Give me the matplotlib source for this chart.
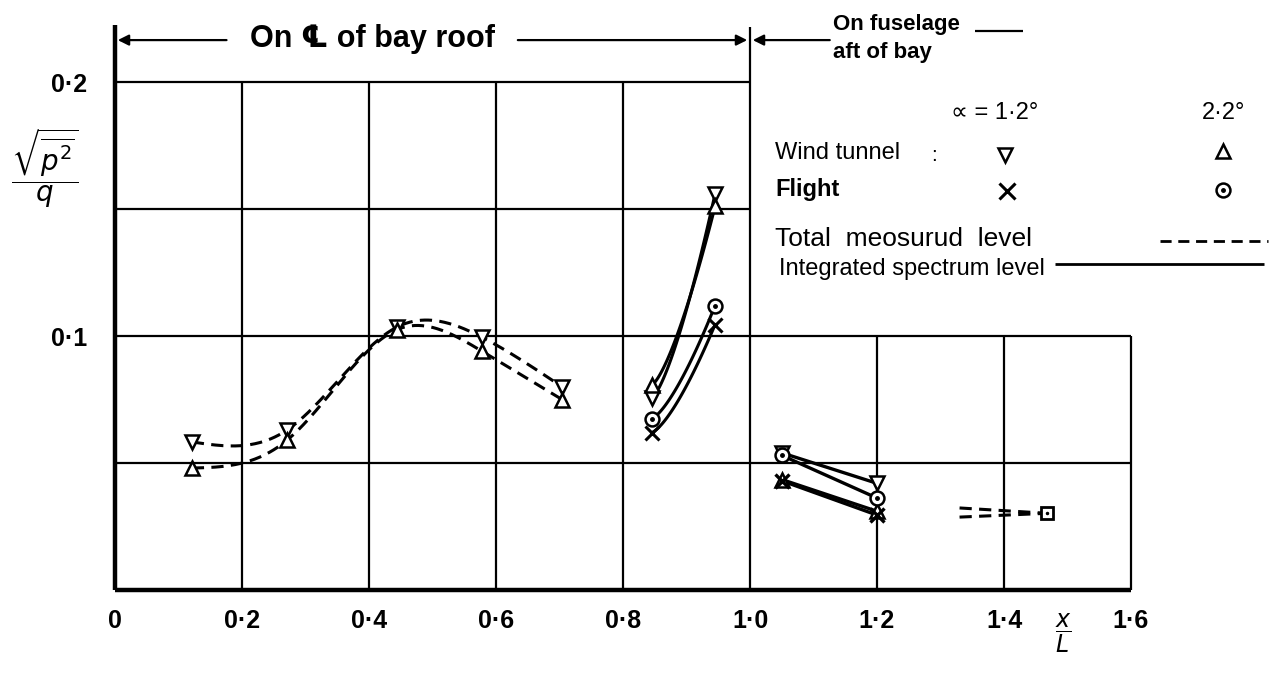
import numpy as np
import matplotlib
matplotlib.use('Agg')
import matplotlib.pyplot as plt

plt.rcParams['font.family'] = ['Liberation Sans', 'DejaVu Sans']

# --- bay roof centre line, total measured level (dashed)
roof_x = [0.121, 0.271, 0.444, 0.578, 0.704]
roof_wt12 = [0.0583, 0.0630, 0.1035, 0.0995, 0.0800]
roof_wt22 = [0.0480, 0.0590, 0.1025, 0.0940, 0.0750]

# --- rear of bay, integrated spectrum level (solid)
rear_x = [0.845, 0.945]
rear_wt12 = [0.0756, 0.1560]
rear_wt22 = [0.0807, 0.1510]
rear_fl22 = [0.0675, 0.1120]
rear_fl12 = [0.0620, 0.1045]

# --- fuselage aft of bay
fus_x = [1.05, 1.20]
fus_wt12 = [0.0540, 0.0420]
fus_fl22 = [0.0530, 0.0362]
fus_wt22 = [0.0435, 0.0310]
fus_fl12 = [0.0430, 0.0295]

aft_x = [1.33, 1.468]
aft_wt12 = [0.0323, 0.0302]
aft_wt22 = [0.0287, 0.0302]

xticks = [0, 0.2, 0.4, 0.6, 0.8, 1.0, 1.2, 1.4, 1.6]
xlabels = ['0', '0·2', '0·4', '0·6', '0·8', '1·0', '1·2', '1·4', '1·6']
yticks = [0.1, 0.2]
ylabels = ['0·1', '0·2']


def spline(xs, ys, n=300):
    # natural cubic spline, used only to draw a smooth pen line
    xs = np.asarray(xs, float)
    ys = np.asarray(ys, float)
    h = np.diff(xs)
    m = len(xs)
    A = np.zeros((m, m))
    r = np.zeros(m)
    A[0, 0] = A[-1, -1] = 1
    for i in range(1, m - 1):
        A[i, i - 1] = h[i - 1]
        A[i, i] = 2 * (h[i - 1] + h[i])
        A[i, i + 1] = h[i]
        r[i] = 3 * ((ys[i + 1] - ys[i]) / h[i] - (ys[i] - ys[i - 1]) / h[i - 1])
    c = np.linalg.solve(A, r)
    xx = np.linspace(xs[0], xs[-1], n)
    k = np.clip(np.searchsorted(xs, xx) - 1, 0, m - 2)
    dx = xx - xs[k]
    b = (ys[k + 1] - ys[k]) / h[k] - h[k] * (2 * c[k] + c[k + 1]) / 3
    d = (c[k + 1] - c[k]) / (3 * h[k])
    return xx, ys[k] + b * dx + c[k] * dx ** 2 + d * dx ** 3


def bowed(xs, ys, n=60):
    # gently curved stroke between two readings
    t = np.linspace(0, 1, n)
    return xs[0] + t * (xs[1] - xs[0]), ys[0] + (ys[1] - ys[0]) * t ** 1.4


def odot(ax, x, y, ms=10, **kw):
    ax.plot(x, y, 'o', ms=ms, mfc='white', mec='black', mew=1.8, **kw)
    ax.plot(x, y, 'o', ms=2.5, color='black', **kw)


fig = plt.figure(figsize=(12.72, 6.73), dpi=100)
ax = fig.add_axes([115 / 1272, 83 / 673, 1016 / 1272, 508 / 673])
ax.set_xlim(0, 1.6)
ax.set_ylim(0, 0.2)
for s in ax.spines.values():
    s.set_visible(False)

# grid, partly cut away where the key sits
gk = dict(color='black', lw=1.6, clip_on=False, zorder=1)
ax.hlines([0.05, 0.1], 0, 1.6, **gk)
ax.hlines([0.15, 0.2], 0, 1.0, **gk)
ax.vlines([0.2, 0.4, 0.6, 0.8], 0, 0.2, **gk)
ax.vlines([1.2, 1.4, 1.6], 0, 0.1, **gk)
ax.vlines(1.0, 0, 0.2215, **gk)
ax.vlines(0, 0, 0.2225, color='black', lw=3.2, clip_on=False)
ax.hlines(0, 0, 1.6, color='black', lw=3.2, clip_on=False)

ax.set_xticks(xticks)
ax.set_xticklabels(xlabels, fontsize=18, fontweight='bold')
ax.set_yticks(yticks)
ax.set_yticklabels(ylabels, fontsize=18, fontweight='bold')
ax.tick_params(length=0)
ax.tick_params(axis='x', pad=14)
ax.tick_params(axis='y', pad=20)

dash = (0, (4, 2.4))
mk = dict(ms=10, mfc='white', mec='black', mew=1.8, ls='none', zorder=4)

# roof curves
for ys, m in ((roof_wt12, 'v'), (roof_wt22, '^')):
    xx, yy = spline(roof_x, ys)
    ax.plot(xx, yy, color='black', lw=2.2, ls=dash)
    ax.plot(roof_x, ys, marker=m, **mk)

# rear of bay
for ys in (rear_wt12, rear_wt22, rear_fl22, rear_fl12):
    xx, yy = bowed(rear_x, ys)
    ax.plot(xx, yy, color='black', lw=2.2)
ax.plot(rear_x, rear_wt12, marker='v', **mk)
ax.plot(rear_x, rear_wt22, marker='^', **mk)
odot(ax, rear_x, rear_fl22, zorder=5)
ax.plot(rear_x, rear_fl12, 'x', color='black', ms=10, mew=2.2, zorder=5)

# fuselage aft of bay
for ys in (fus_wt12, fus_fl22, fus_wt22, fus_fl12):
    ax.plot(fus_x, ys, color='black', lw=2.4)
ax.plot(fus_x, fus_wt12, marker='v', **mk)
ax.plot(fus_x, fus_wt22, marker='^', **mk)
odot(ax, fus_x, fus_fl22, zorder=5)
ax.plot(fus_x, fus_fl12, 'x', color='black', ms=10, mew=2.4, zorder=5)

for ys in (aft_wt12, aft_wt22):
    ax.plot(aft_x, ys, color='black', lw=2.2, ls=dash)
ax.plot(aft_x[-1], aft_wt12[-1], 's', ms=9, mfc='white', mec='black', mew=2, zorder=5)
ax.plot(aft_x[-1], aft_wt12[-1], '.', ms=3, color='black', zorder=6)

# region captions along the top
hd = dict(arrowstyle='-|>', color='black', lw=1.6, mutation_scale=16)
ax.annotate('', xy=(0.0, 0.2165), xytext=(0.18, 0.2165), arrowprops=hd,
            annotation_clip=False)
ax.annotate('', xy=(1.0, 0.2165), xytext=(0.63, 0.2165), arrowprops=hd,
            annotation_clip=False)
ax.annotate('', xy=(1.0, 0.2165), xytext=(1.13, 0.2165), arrowprops=hd,
            annotation_clip=False)
ax.text(0.405, 0.2168, 'On ℄ of bay roof', fontsize=22, fontweight='bold',
        ha='center', va='center', clip_on=False)
ax.text(1.13, 0.2225, 'On fuselage', fontsize=16, fontweight='bold',
        ha='left', va='center', clip_on=False)
ax.text(1.13, 0.2115, 'aft of bay', fontsize=16, fontweight='bold',
        ha='left', va='center', clip_on=False)
ax.hlines(0.2200, 1.355, 1.43, color='black', lw=1.6, clip_on=False)

# key
kt = dict(fontsize=17, ha='left', va='center', clip_on=False)
ax.text(1.385, 0.1878, '∝ = 1·2°', fontsize=17, ha='center', va='center',
        clip_on=False)
ax.text(1.745, 0.1878, '2·2°', fontsize=17, ha='center', va='center',
        clip_on=False)
ax.text(1.04, 0.1722, 'Wind tunnel', **kt)
ax.text(1.29, 0.1712, ':', fontsize=15, ha='center', va='center',
        clip_on=False)
ax.plot(1.402, 0.1712, marker='v', clip_on=False, **mk)
ax.plot(1.745, 0.1730, marker='^', clip_on=False, **mk)
ax.text(1.04, 0.1575, 'Flight', fontweight='bold', **kt)
ax.plot(1.405, 0.1570, 'x', color='black', ms=11, mew=2.2, clip_on=False)
odot(ax, 1.745, 0.1575, clip_on=False)
ax.text(1.04, 0.1380, 'Total  meosurud  level', fontsize=19, ha='left',
        va='center', clip_on=False)
ax.hlines(0.1375, 1.646, 1.816, color='black', lw=2, linestyles=dash,
          clip_on=False)
ax.text(1.045, 0.1262, 'Integrated spectrum level', **kt)
ax.hlines(0.1283, 1.48, 1.81, color='black', lw=2, clip_on=False)

fig.text(45 / 1272, 1 - 168 / 673, r'$\dfrac{\sqrt{\overline{p^2}}}{q}$',
         fontsize=20, ha='center', va='center')
fig.text(1063 / 1272, 1 - 633 / 673, r'$\dfrac{x}{L}$', fontsize=17,
         ha='center', va='center')

fig.savefig('out.png', dpi=100)
